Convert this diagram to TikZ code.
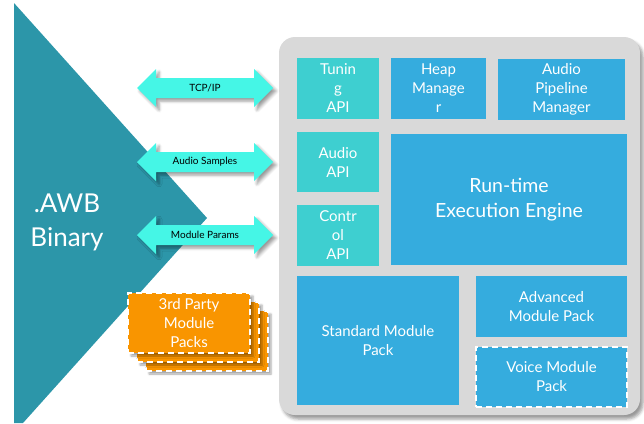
\documentclass[tikz,border=0pt]{standalone}
\usepackage{fontspec}
\setmainfont{Lato}
\usetikzlibrary{shadows,shadows.blur}
\definecolor{tri}{HTML}{2C96A9}
\definecolor{panel}{HTML}{D9D9D9}
\definecolor{turq}{HTML}{3ECFD0}
\definecolor{blu}{HTML}{35ACDE}
\definecolor{arr}{HTML}{45F6E6}
\definecolor{org}{HTML}{F99500}
\tikzset{
  box/.style={fill=#1, text=white, align=center, inner sep=0pt, font=\fontsize{15}{19}\selectfont},
  dashbox/.style={draw=white, line width=1.6pt, dash pattern=on 6pt off 4pt},
  arrowlbl/.style={text=black, font=\fontsize{10}{11}\selectfont, inner sep=0pt},
  arrowshape/.style={fill=arr, blur shadow={shadow xshift=3pt, shadow yshift=-3pt, shadow blur radius=3pt, shadow opacity=40}},
  orgbox/.style={fill=org, dashbox, minimum width=122pt, minimum height=60pt, inner sep=0pt, blur shadow={shadow xshift=3pt, shadow yshift=-3pt, shadow blur radius=2pt, shadow opacity=35}}
}
\begin{document}
\begin{tikzpicture}[x=1pt,y=-1pt]
\useasboundingbox (0,0) rectangle (644,423);
% triangle
\fill[tri] (14,3) -- (207,218) -- (23,423) -- (14,423) -- cycle;
\node[text=white, align=center, font=\fontsize{26}{34}\selectfont, inner sep=0pt] (awb) at (67,222) {.AWB\\Binary};
% panel
\path[fill=panel, rounded corners=16pt, blur shadow={shadow xshift=3pt, shadow yshift=-4pt, shadow blur radius=3pt, shadow opacity=40}] (279,37) rectangle (640,415);
% boxes
\node[box=turq, minimum width=82pt, minimum height=61pt] (tuning) at (338,88.5) {Tunin\\g\\API};
\node[box=blu, minimum width=95pt, minimum height=61pt] (heap) at (438.5,88.5) {Heap\\Manage\\r};
\node[box=blu, minimum width=127pt, minimum height=61pt] (pipe) at (561.5,89.5) {Audio\\Pipeline\\Manager};
\node[box=turq, minimum width=82pt, minimum height=60pt] (audioapi) at (338,162) {Audio\\API};
\node[box=turq, minimum width=82pt, minimum height=61pt] (ctrlapi) at (338,235.5) {Contr\\ol\\API};
\node[box=blu, minimum width=236pt, minimum height=131pt, font=\fontsize{19.5}{25}\selectfont] (rte) at (509,199.5) {Run-time\\Execution Engine};
\node[box=blu, minimum width=162pt, minimum height=129pt] (std) at (378,340.5) {Standard Module\\Pack};
\node[box=blu, minimum width=151pt, minimum height=61pt] (adv) at (551.5,306.5) {Advanced\\Module Pack};
\node[box=blu, dashbox, minimum width=151pt, minimum height=60pt] (voice) at (551.5,377) {Voice Module\\Pack};
% arrows
\foreach \c/\n/\t in {88/tcp/{TCP/IP}, 162/samples/{Audio Samples}, 235/params/{Module Params}}{
  \path[arrowshape] (137,\c) -- (156,\c-19) -- (156,\c-10) -- (254,\c-10) -- (254,\c-19) -- (273,\c)
     -- (254,\c+19) -- (254,\c+10) -- (156,\c+10) -- (156,\c+19) -- cycle;
  \node[arrowlbl] (\n) at (205,\c) {\t};
}
% 3rd party stack
\node[orgbox] (org3) at (207,341) {};
\node[orgbox] (org2) at (198,332) {};
\node[orgbox, text=white, align=center, font=\fontsize{15}{19}\selectfont] (org1) at (189,323) {3rd Party\\Module\\Packs};
\end{tikzpicture}
\end{document}
